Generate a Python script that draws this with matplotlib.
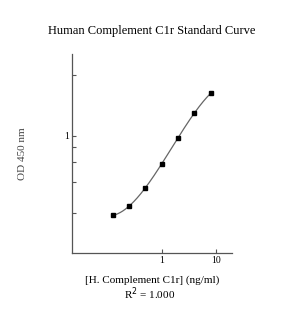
import matplotlib
matplotlib.use("Agg")
import matplotlib.pyplot as plt
import numpy as np

# standard curve data
conc = [0.125, 0.25, 0.5, 1, 2, 4, 8]
od = [0.209, 0.252, 0.360, 0.576, 0.961, 1.563, 2.30]
y_minor = [0.22, 0.4, 0.6, 0.8, 3.3]

plt.rcParams['font.family'] = ['Liberation Serif', 'DejaVu Serif']

fig = plt.figure(figsize=(2.88, 3.19), dpi=100)
ax = fig.add_axes([0.25, 0.207, 0.556, 0.624])

# fit in log-log space (cubic) for the drawn curve
lx = np.log10(conc)
ly = np.log10(od)
coef = np.polyfit(lx, ly, 3)
xx = np.linspace(lx[0], lx[-1], 200)
ax.plot(10 ** xx, 10 ** np.polyval(coef, xx), color='#666666', lw=0.9)
ax.plot(conc, od, 's', color='black', ms=2.4)

ax.set_xscale('log')
ax.set_yscale('log')
ax.set_xlim(0.022, 20)
ax.set_ylim(0.1, 5)

ax.set_xticks([1, 10])
ax.set_xticklabels(['1', '10'])
ax.xaxis.set_minor_locator(matplotlib.ticker.NullLocator())
ax.set_yticks([1])
ax.set_yticklabels(['1'])
ax.set_yticks(y_minor, minor=True)
ax.yaxis.set_minor_formatter(matplotlib.ticker.NullFormatter())

for s in ['top', 'right']:
    ax.spines[s].set_visible(False)
for s in ['left', 'bottom']:
    ax.spines[s].set_color('#555555')
    ax.spines[s].set_linewidth(0.9)
ax.tick_params(which='both', direction='in', length=3, width=0.8, color='#555555',
               labelsize=7, pad=2)

ax.set_title('Human Complement C1r Standard Curve', fontsize=9, pad=14)
ax.set_ylabel('OD 450 nm', fontsize=8, color='#444444', labelpad=27)
ax.set_xlabel('[H. Complement C1r] (ng/ml)', fontsize=8, labelpad=8)
fig.text(0.52, 0.08, 'R$^2$ = 1.000', fontsize=8, ha='center', va='center')

fig.savefig('out.png', dpi=100)
